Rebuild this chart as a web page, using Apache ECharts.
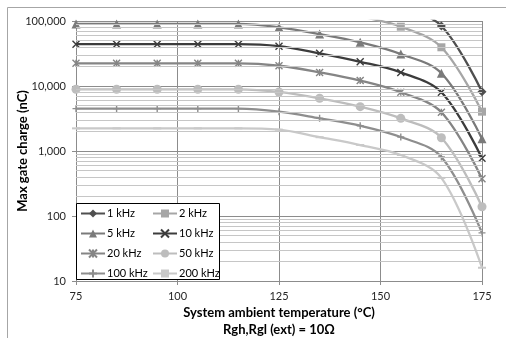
<!DOCTYPE html>
<html>
<head>
<meta charset="utf-8">
<script src="https://cdn.jsdelivr.net/npm/echarts@6/dist/echarts.min.js"></script>
<style>html,body{margin:0;padding:0;background:#fff;}#c{width:506px;height:338px;}</style>
</head>
<body>
<div id="c"></div>
<script>
var temps = [75, 85, 95, 105, 115, 125, 135, 145, 155, 165, 175];
var q1k   = [450000, 450000, 450000, 450000, 450000, 400000, 316000, 236000, 163000, 83800, 8170];
var q2k   = [225000, 225000, 225000, 225000, 225000, 200000, 158000, 118000, 81700, 39400, 4030];
var q5k   = [90000, 90000, 90000, 90000, 90000, 80000, 63000, 47000, 31000, 15700, 1550];
var q10k  = [44000, 44000, 44000, 44000, 44000, 41000, 31800, 23600, 16200, 8000, 773];
var q20k  = [22300, 22300, 22300, 22300, 22300, 20500, 16200, 12100, 8000, 3940, 375];
var q50k  = [8900, 8900, 8900, 8900, 8900, 8100, 6470, 4810, 3180, 1600, 139];
var q100k = [4480, 4480, 4480, 4480, 4480, 4030, 3180, 2450, 1640, 810, 55];
var q200k = [2230, 2230, 2230, 2230, 2230, 2130, 1630, 1236, 867, 385, 16];
var seriesNames = ['1 kHz', '2 kHz', '5 kHz', '10 kHz', '20 kHz', '50 kHz', '100 kHz', '200 kHz'];
var xTicks = [75, 100, 125, 150, 175];
var yTicks = [10, 100, 1000, 10000, 100000];

var FONT = 'Lato';
var minorGrid = [];
for (var d = 0; d < yTicks.length - 1; d++) {
  for (var m = 2; m <= 9; m++) minorGrid.push({ yAxis: yTicks[d] * m });
}

function pair(arr) { return temps.map(function (t, i) { return [t, arr[i]]; }); }
var X_PATH = 'path://M0,0L10,10M10,0L0,10';
var PLUS_PATH = 'path://M5,0L5,10M0,5L10,5';
var STAR_PATH = 'path://M0,0L10,10M10,0L0,10M5,0L5,10';

var styles = [
  { data: q1k,   color: '#4f4f4f', symbol: 'diamond',  size: 9 },
  { data: q2k,   color: '#a6a6a6', symbol: 'rect',     size: 8 },
  { data: q5k,   color: '#7a7a7a', symbol: 'triangle', size: 9 },
  { data: q10k,  color: '#3c3c3c', symbol: X_PATH,     size: 7, stroke: true },
  { data: q20k,  color: '#858585', symbol: STAR_PATH,  size: 7, stroke: true },
  { data: q50k,  color: '#bdbdbd', symbol: 'circle',   size: 9 },
  { data: q100k, color: '#8e8e8e', symbol: PLUS_PATH,  size: 7, stroke: true },
  { data: q200k, color: '#c9c9c9', symbol: 'rect',     size: [8, 2] }
];

var series = [{
  name: 'minor', type: 'line', data: [], z: 1, silent: true,
  markLine: {
    silent: true, symbol: ['none', 'none'], label: { show: false },
    lineStyle: { type: 'solid', color: '#c6c6c6', width: 1 },
    animation: false, data: minorGrid
  }
}];
styles.forEach(function (s, i) {
  series.push({
    name: seriesNames[i], type: 'line', data: pair(s.data),
    smooth: 0.35, clip: true, z: 2,
    symbol: s.symbol, symbolSize: s.size, showSymbol: true,
    lineStyle: { color: s.color, width: 2.3 },
    itemStyle: { color: s.color, borderColor: s.color, borderWidth: s.stroke ? 1.4 : 0 }
  });
});

var chart = echarts.init(document.getElementById('c'), null, { renderer: 'canvas' });
chart.setOption({
  animation: false,
  backgroundColor: '#fff',
  textStyle: { fontFamily: FONT },
  grid: { left: 76, right: 24, top: 21, bottom: 57, containLabel: false },
  xAxis: {
    type: 'value', min: 75, max: 175, interval: 25,
    axisLine: { show: true, lineStyle: { color: '#8c8c8c', width: 1 } },
    axisTick: { show: true, length: 4, inside: false, lineStyle: { color: '#8c8c8c' } },
    axisLabel: { color: '#262626', fontSize: 11, fontFamily: FONT, margin: 10 },
    splitLine: { show: true, lineStyle: { color: '#8c8c8c', width: 1 } }
  },
  yAxis: {
    type: 'log', min: 10, max: 100000, logBase: 10,
    axisLine: { show: true, lineStyle: { color: '#8c8c8c', width: 1 } },
    axisTick: { show: true, length: 4, inside: false, lineStyle: { color: '#8c8c8c' } },
    axisLabel: {
      color: '#262626', fontSize: 11, fontFamily: FONT, margin: 10,
      formatter: function (v) { return Math.round(v).toString().replace(/\B(?=(\d{3})+(?!\d))/g, ','); }
    },
    splitLine: { show: true, lineStyle: { color: '#8c8c8c', width: 1 } }
  },
  legend: [{
    data: ['1 kHz', '5 kHz', '20 kHz', '100 kHz'],
    orient: 'vertical', left: 80, top: 208, padding: 0, itemGap: 9,
    itemWidth: 24, itemHeight: 10, z: 20,
    textStyle: { fontFamily: FONT, fontSize: 11, color: '#000', padding: [0, 0, 0, -3] }
  }, {
    data: ['2 kHz', '10 kHz', '50 kHz', '200 kHz'],
    orient: 'vertical', left: 152, top: 208, padding: 0, itemGap: 9,
    itemWidth: 24, itemHeight: 10, z: 20,
    textStyle: { fontFamily: FONT, fontSize: 11, color: '#000', padding: [0, 0, 0, -3] }
  }],
  graphic: {
    elements: [
      { type: 'rect', z: 0, silent: true, shape: { x: 7.5, y: 7.5, width: 600, height: 400 },
        style: { fill: 'none', stroke: '#a6a6a6', lineWidth: 1 } },
      { type: 'rect', z: 10, silent: true, shape: { x: 76.5, y: 203.5, width: 143, height: 76 },
        style: { fill: '#fff', stroke: '#000', lineWidth: 1 } },
      { type: 'text', z: 10, silent: true, x: 23, y: 151, rotation: Math.PI / 2,
        style: { text: 'Max gate charge (nC)', x: 0, y: 0, textAlign: 'center', textVerticalAlign: 'middle',
          fontFamily: FONT, fontWeight: 'bold', fontSize: 13, fill: '#000' } },
      { type: 'text', z: 10, silent: true,
        style: { text: 'System ambient temperature (°C)', x: 279, y: 313, textAlign: 'center', textVerticalAlign: 'middle',
          fontFamily: FONT, fontWeight: 'bold', fontSize: 13, fill: '#000' } },
      { type: 'text', z: 10, silent: true,
        style: { text: 'Rgh,Rgl (ext) = 10Ω', x: 279, y: 330, textAlign: 'center', textVerticalAlign: 'middle',
          fontFamily: FONT, fontWeight: 'bold', fontSize: 13, fill: '#000' } }
    ]
  },
  series: series
});
</script>
</body>
</html>
